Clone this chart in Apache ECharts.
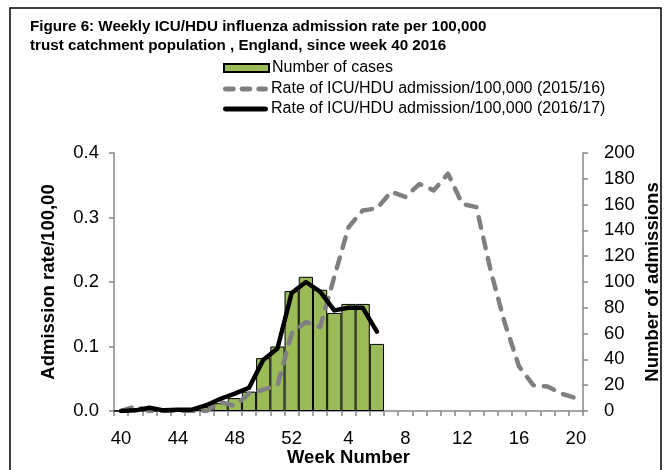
<!DOCTYPE html>
<html>
<head>
<meta charset="utf-8">
<script src="https://cdn.jsdelivr.net/npm/echarts@6/dist/echarts.min.js"></script>
<style>
html,body{margin:0;padding:0;background:#fff;}
#c{width:669px;height:470px;}
</style>
</head>
<body>
<div id="c"></div>
<script>
const weeks = ['40','41','42','43','44','45','46','47','48','49','50','51','52',
  '1','2','3','4','5','6','7','8','9','10','11','12','13','14','15','16','17','18','19','20'];
const cases = [0,1,0,1,1,1,3,6,10,15,41,50,93,104,94,76,83,83,52];
const rate1617 = [0.000,0.001,0.005,0.001,0.002,0.002,0.009,0.019,0.027,0.036,0.079,0.097,0.183,0.200,0.185,0.156,0.160,0.160,0.123];
const rate1516 = [0.000,0.007,0.000,0.000,0.000,0.000,0.000,0.014,0.008,0.027,0.033,0.040,0.120,0.138,0.130,0.208,0.285,0.311,0.314,0.340,0.332,0.352,0.342,0.368,0.321,0.316,0.218,0.136,0.069,0.040,0.038,0.027,0.020];
const leftTicks = ['0.0','0.1','0.2','0.3','0.4'];
const seriesNames = ['Number of cases',
  'Rate of ICU/HDU admission/100,000 (2015/16)',
  'Rate of ICU/HDU admission/100,000 (2016/17)'];

const FONT = "'Liberation Sans', Arial, sans-serif";
const axisGray = '#868686';
const chart = echarts.init(document.getElementById('c'), null, {renderer:'canvas'});
chart.setOption({
  animation:false,
  backgroundColor:'#fff',
  textStyle:{fontFamily:FONT},
  title:{
    text:'Figure 6: Weekly ICU/HDU influenza admission rate per 100,000\ntrust catchment population , England, since week 40 2016',
    left:30, top:17, padding:0,
    textStyle:{fontFamily:FONT,fontSize:15.2,fontWeight:'bold',color:'#000',lineHeight:19.5}
  },
  legend:[{
    left:223, top:60, padding:0, itemWidth:45, itemHeight:8,
    textStyle:{fontFamily:FONT,fontSize:16,color:'#000',padding:[0,0,0,-2]},
    data:[{name:seriesNames[0], icon:'rect'}]
  },{
    left:223, top:81, padding:0, itemWidth:45, itemHeight:5,
    textStyle:{fontFamily:FONT,fontSize:16,color:'#000',padding:[0,0,0,-2]},
    data:[{name:seriesNames[1], icon:'path://M2,0h8a2,2 0 0 1 0,5h-8a2,2 0 0 1 0,-5z M19,0h8a2,2 0 0 1 0,5h-8a2,2 0 0 1 0,-5z M36,0h7a2,2 0 0 1 0,5h-7a2,2 0 0 1 0,-5z'}]
  },{
    left:223, top:101, padding:0, itemWidth:45, itemHeight:5,
    textStyle:{fontFamily:FONT,fontSize:16,color:'#000',padding:[0,0,0,-2]},
    data:[{name:seriesNames[2], icon:'path://M2,0h41a2,2 0 0 1 0,5h-41a2,2 0 0 1 0,-5z'}]
  }],
  grid:{left:114, right:86, top:153, bottom:59, containLabel:false, outerBoundsMode:'none'},
  xAxis:{
    type:'category', data:weeks, boundaryGap:true,
    name:'Week Number', nameLocation:'middle', nameGap:37, nameMoveOverlap:false,
    nameTextStyle:{fontFamily:FONT,fontSize:18.5,fontWeight:'bold',color:'#000'},
    axisLine:{lineStyle:{color:axisGray,width:1.5}},
    axisTick:{show:true, interval:0, length:5, lineStyle:{color:axisGray,width:1.5}},
    axisLabel:{interval:3, margin:18, fontFamily:FONT, fontSize:18.5, color:'#000'},
    splitLine:{show:false}
  },
  yAxis:[{
    type:'value', min:0, max:0.4, interval:0.1, position:'left',
    name:'Admission rate/100,00', nameLocation:'middle', nameGap:56, nameRotate:90, nameMoveOverlap:false,
    nameTextStyle:{fontFamily:FONT,fontSize:18.5,fontWeight:'bold',color:'#000'},
    axisLine:{show:true,lineStyle:{color:axisGray,width:1.5}},
    axisTick:{show:true,length:5,lineStyle:{color:axisGray,width:1.5}},
    axisLabel:{margin:15,fontFamily:FONT,fontSize:18.5,color:'#000',
      formatter:(v)=>leftTicks[Math.round(v*10)] ?? v.toFixed(1)},
    splitLine:{show:false}
  },{
    type:'value', min:0, max:200, interval:20, position:'right',
    name:'Number of admissions', nameLocation:'middle', nameGap:60, nameRotate:90, nameMoveOverlap:false,
    nameTextStyle:{fontFamily:FONT,fontSize:18.5,fontWeight:'bold',color:'#000'},
    axisLine:{show:true,lineStyle:{color:axisGray,width:1.5}},
    axisTick:{show:true,length:5,lineStyle:{color:axisGray,width:1.5}},
    axisLabel:{margin:21,fontFamily:FONT,fontSize:18.5,color:'#000'},
    splitLine:{show:false}
  }],
  series:[{
    name:seriesNames[0], type:'bar', yAxisIndex:1,
    data:cases, barCategoryGap:'0%',
    itemStyle:{color:'#9BBB59', borderColor:'#000', borderWidth:1}
  },{
    name:seriesNames[1], type:'line', yAxisIndex:0,
    data:rate1516, symbol:'none', showSymbol:false,
    lineStyle:{color:'#808080', width:4.5, type:[11,10], cap:'round', join:'round'},
    itemStyle:{color:'#808080'}
  },{
    name:seriesNames[2], type:'line', yAxisIndex:0,
    data:rate1617, symbol:'none', showSymbol:false,
    lineStyle:{color:'#000', width:4.5, cap:'round', join:'round'},
    itemStyle:{color:'#000'}
  }],
  graphic:[{
    type:'rect', silent:true, z:-1,
    shape:{x:10, y:8, width:651, height:470},
    style:{fill:null, stroke:'#000', lineWidth:1.5}
  }]
});
</script>
</body>
</html>
